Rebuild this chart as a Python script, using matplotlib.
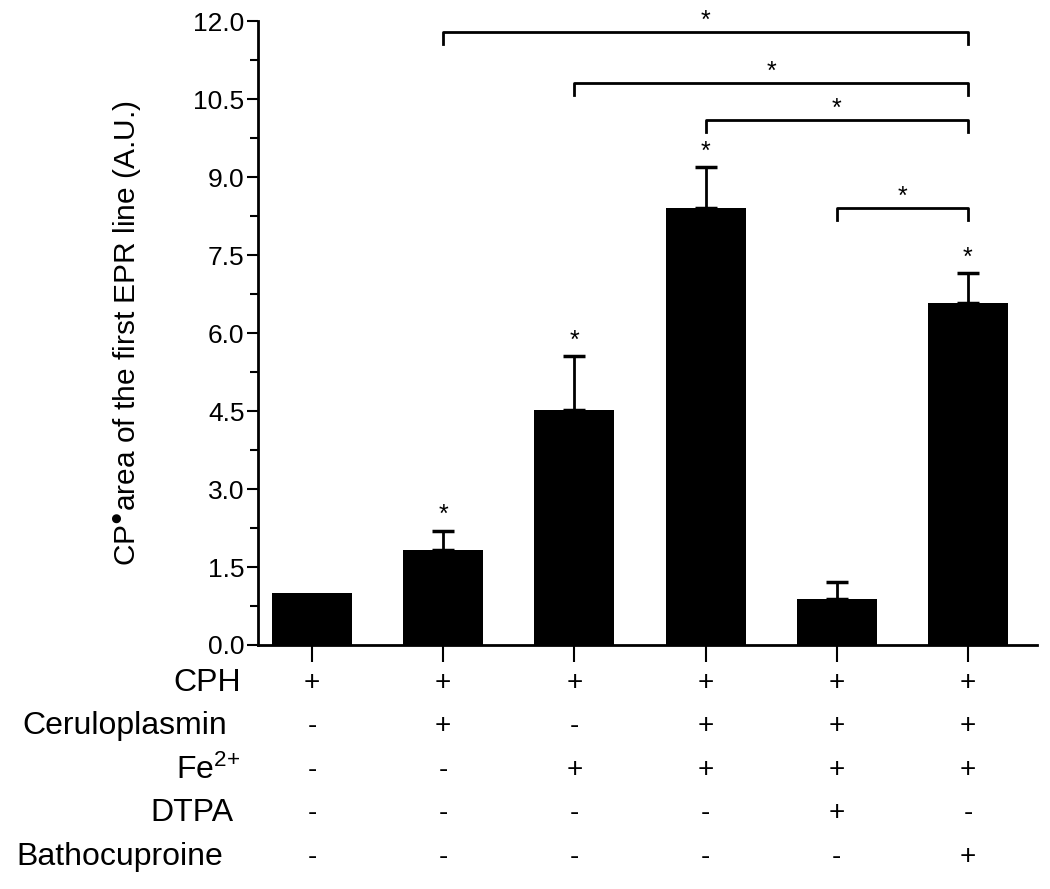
import matplotlib
matplotlib.use("Agg")
import matplotlib.pyplot as plt
from matplotlib.ticker import MultipleLocator

plt.rcParams['font.family'] = ['Liberation Sans', 'DejaVu Sans']
plt.rcParams['mathtext.fontset'] = 'custom'
plt.rcParams['mathtext.rm'] = 'Liberation Sans'
plt.rcParams['mathtext.it'] = 'Liberation Sans'

# bar values and errors (A.U.)
means = [1.0, 1.83, 4.52, 8.40, 0.88, 6.58]
errs = [0.0, 0.37, 1.04, 0.79, 0.33, 0.57]
star_on_bar = [False, True, True, True, False, True]

# comparison brackets: (left bar, right bar, height)
brackets = [(1, 5, 11.79), (2, 5, 10.81), (3, 5, 10.10), (4, 5, 8.40)]

# condition table
row_names = ['CPH', 'Ceruloplasmin', 'Fe$^{\\text{2+}}$', 'DTPA', 'Bathocuproine']
rows = [
    ['+', '+', '+', '+', '+', '+'],
    ['-', '+', '-', '+', '+', '+'],
    ['-', '-', '+', '+', '+', '+'],
    ['-', '-', '-', '-', '+', '-'],
    ['-', '-', '-', '-', '-', '+'],
]

fig = plt.figure(figsize=(10.5, 8.89), dpi=100)
ax = fig.add_axes([0.246, 0.2745, 0.742, 0.7015])

x = list(range(len(means)))
ax.bar(x, means, width=0.61, color='black', zorder=2)
for xi, m, e in zip(x, means, errs):
    if e > 0:
        ax.errorbar(xi, m, yerr=[[0], [e]], fmt='none', ecolor='black',
                    elinewidth=2, capsize=8, capthick=2.5, zorder=3)

for xi, m, e, s in zip(x, means, errs, star_on_bar):
    if s:
        ax.text(xi, m + e + 0.3, '*', ha='center', va='center', fontsize=18)

for a, b, h in brackets:
    ax.plot([a, a, b, b], [h - 0.22, h, h, h - 0.22], color='black', lw=2,
            clip_on=False)
    ax.text((a + b) / 2, h + 0.22, '*', ha='center', va='center', fontsize=18)

ax.set_xlim(-0.41, 5.53)
ax.set_ylim(0, 12)
ax.yaxis.set_major_locator(MultipleLocator(1.5))
ax.yaxis.set_minor_locator(MultipleLocator(0.75))
ax.yaxis.set_major_formatter(plt.FormatStrFormatter('%.1f'))
ax.set_xticks(x)
ax.set_xticklabels([])
ax.tick_params(axis='y', which='major', length=8, width=1.5, labelsize=19,
               direction='out', pad=2)
ax.tick_params(axis='y', which='minor', length=6, width=1.5, direction='out')
ax.tick_params(axis='x', length=12, width=1.5, direction='out')
for side in ['top', 'right']:
    ax.spines[side].set_visible(False)
for side in ['left', 'bottom']:
    ax.spines[side].set_linewidth(2)

ax.set_ylabel('CP$^{\u25CF}$area of the first EPR line (A.U.)', fontsize=21.5,
              labelpad=36)

# table of + / - under the bars
trans = ax.get_xaxis_transform()
row_y = [-0.061 - 0.0697 * i for i in range(len(rows))]
for yy, signs in zip(row_y, rows):
    for xi, s in zip(x, signs):
        ax.text(xi, yy, s, transform=trans, ha='center', va='center',
                fontsize=20)

# row labels placed in figure fraction
label_x = [0.2295, 0.021, 0.2285, 0.222, 0.016]
label_ha = ['right', 'left', 'right', 'right', 'left']
for name, yy, lx, ha in zip(row_names, row_y, label_x, label_ha):
    fy = 0.2745 + yy * 0.7015
    fig.text(lx, fy, name, ha=ha, va='center', fontsize=23)

fig.savefig('out.png', dpi=100)
